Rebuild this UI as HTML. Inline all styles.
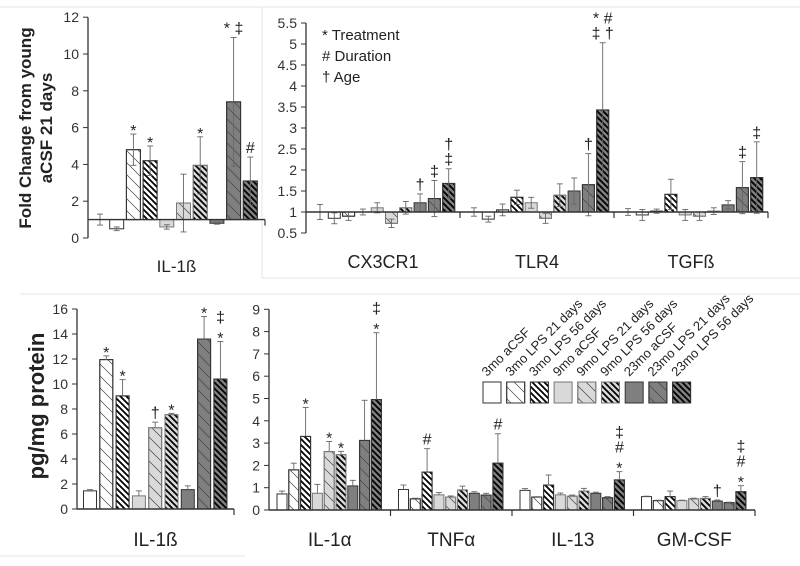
<!DOCTYPE html>
<html><head><meta charset="utf-8">
<style>
html,body{margin:0;padding:0;background:#fff;}
svg{display:block;font-family:"Liberation Sans",sans-serif;}
</style></head>
<body>
<svg id="chart" width="800" height="566" viewBox="0 0 800 566" xmlns="http://www.w3.org/2000/svg">
<defs>
<pattern id="thin" patternUnits="userSpaceOnUse" width="12" height="12">
<path d="M0,0 L12,12 M-3,9 L3,15 M9,-3 L15,3" stroke="#444" stroke-width="0.7"/>
</pattern>
<pattern id="bold" patternUnits="userSpaceOnUse" width="6" height="6">
<path d="M0,0 L6,6 M-2,4 L2,8 M4,-2 L8,2" stroke="#000" stroke-width="1.8"/>
</pattern>
</defs>
<g stroke="#e6e6e6" stroke-width="1">
<line x1="0" y1="7" x2="800" y2="7"/>
<line x1="262" y1="7" x2="262" y2="278"/>
<line x1="262" y1="278" x2="800" y2="278"/>
<line x1="20" y1="294" x2="800" y2="294"/>
<line x1="0" y1="556" x2="245" y2="556"/>
</g>
</svg>
<script>
// ---------- data ----------
const patsA = ['w','w','wt','wb','l','lt','lb','d','dt','db'];
const patsC = ['w','wt','wb','l','lt','lb','d','dt','db'];
const legendLabels = ['3mo aCSF','3mo LPS 21 days','3mo LPS 56 days','9mo aCSF','9mo LPS 21 days','9mo LPS 56 days','23mo aCSF','23mo LPS 21 days','23mo LPS 56 days'];

const aTicks = [0,2,4,6,8,10,12];
const aGroups = ['IL-1ß'];
const aVals = [[1,0.5,4.8,4.2,0.6,1.9,3.95,0.8,7.4,3.1]];
const aErr  = [[0.3,0.1,0.85,0.8,0.12,1.57,1.55,0.05,3.5,1.3]];
const aNotes = [['','','*','*','','','*','','* ‡','#']];

const bTicks = [0.5,1,1.5,2,2.5,3,3.5,4,4.5,5,5.5];
const bGroups = ['CX3CR1','TLR4','TGFß'];
const bVals = [
 [1,0.85,0.9,1.0,1.1,0.73,1.1,1.22,1.32,1.68],
 [1,0.83,1.05,1.35,1.22,0.85,1.4,1.5,1.65,3.43],
 [1,0.93,1.02,1.42,0.93,0.9,1.02,1.17,1.58,1.82]];
const bErr = [
 [0.18,0.13,0.1,0.07,0.12,0.1,0.15,0.21,0.43,0.35],
 [0.1,0.07,0.14,0.17,0.13,0.12,0.27,0.31,0.74,1.6],
 [0.08,0.13,0.05,0.36,0.13,0.1,0.08,0.1,0.62,0.85]];
const bNotes = [
 ['','','','','','','','†','‡','†\n‡'],
 ['','','','','','','','','†','*  #\n‡  †'],
 ['','','','','','','','','‡','‡']];

const cTicks = [0,2,4,6,8,10,12,14,16];
const cGroups = ['IL-1ß'];
const cVals = [[1.45,11.95,9.05,1.05,6.5,7.55,1.55,13.6,10.4]];
const cErr  = [[0.1,0.3,1.3,0.4,0.45,0.1,0.3,1.8,3.0]];
const cNotes = [['','*','*','','†','*','','*','‡\n*']];

const dTicks = [0,1,2,3,4,5,6,7,8,9];
const dGroups = ['IL-1α','TNFα','IL-13','GM-CSF'];
const dVals = [
 [0.72,1.8,3.3,0.75,2.62,2.48,1.08,3.12,4.95],
 [0.92,0.5,1.7,0.68,0.58,0.9,0.75,0.67,2.1],
 [0.88,0.58,1.12,0.68,0.62,0.85,0.75,0.55,1.35],
 [0.6,0.42,0.6,0.42,0.5,0.52,0.4,0.33,0.82]];
const dErr = [
 [0.13,0.3,1.3,0.4,0.45,0.15,0.25,1.8,3.0],
 [0.2,0.03,1.05,0.1,0.05,0.17,0.07,0.08,1.32],
 [0.08,0.02,0.45,0.08,0.05,0.12,0.05,0.05,0.37],
 [0.02,0.02,0.25,0.02,0.03,0.08,0.05,0.02,0.27]];
const dNotes = [
 ['','','*','','*','*','','','‡\n*'],
 ['','','#','','','','','','#'],
 ['','','','','','','','','‡\n#\n*'],
 ['','','','','','','†','','‡\n#\n*']];

// ---------- drawing ----------
const NS='http://www.w3.org/2000/svg';
const svg=document.getElementById('chart');
function mk(tag,attrs,parent){const e=document.createElementNS(NS,tag);for(const k in attrs)e.setAttribute(k,attrs[k]);(parent||svg).appendChild(e);return e;}
const fillCol={w:'#ffffff',l:'#d9d9d9',d:'#7f7f7f'};

function drawBar(g,p,cx,bw,yA,yB){
  const y=Math.min(yA,yB),h=Math.abs(yA-yB);
  const base=p[0];
  const r=mk('rect',{x:cx-bw/2,y:y,width:bw,height:h,fill:fillCol[base],stroke:base==='l'?'#777':'#333','stroke-width':1},g);
  
  
  if(p.length>1){
    const o=mk('rect',{x:cx-bw/2,y:y,width:bw,height:h,fill:p[1]==='t'?'url(#thin)':'url(#bold)',stroke:base==='l'?'#777':'#333','stroke-width':1},g);
    
    
  }
}

function panel(cfg){
  const g=mk('g',{});
  
  
  const Y=v=>cfg.y0-(v-cfg.vmin)*cfg.ppu;
  const xEnd=cfg.ax+cfg.gw*cfg.groups.length;
  mk('line',{x1:cfg.ax,y1:Y(cfg.ticks[0]),x2:cfg.ax,y2:Y(cfg.ticks[cfg.ticks.length-1]),stroke:'#333','stroke-width':1.3},g);
  cfg.ticks.forEach(t=>{
    mk('line',{x1:cfg.ax-5,y1:Y(t),x2:cfg.ax,y2:Y(t),stroke:'#333','stroke-width':1},g);
    const tx=mk('text',{x:cfg.ax-9,y:Y(t)+5,'text-anchor':'end','font-size':14,fill:'#333'},g);
    tx.textContent=t;
    
    
  });
  const yb=Y(cfg.base);
  cfg.groups.forEach((name,gi)=>{
    const gs=cfg.ax+gi*cfg.gw;
    cfg.vals[gi].forEach((v,i)=>{
      const cx=gs+cfg.pad+i*cfg.sp;
      drawBar(g,cfg.pats[i],cx,cfg.bw,Y(v),yb);
      const e=cfg.err[gi][i];
      const lo=cfg.sym?v-e:v, hi=v+e;
      mk('line',{x1:cx,y1:Y(lo),x2:cx,y2:Y(hi),stroke:'#666','stroke-width':0.9},g);
      mk('line',{x1:cx-3,y1:Y(hi),x2:cx+3,y2:Y(hi),stroke:'#666','stroke-width':0.9},g);
      if(cfg.sym) mk('line',{x1:cx-3,y1:Y(lo),x2:cx+3,y2:Y(lo),stroke:'#666','stroke-width':0.9},g);
      const note=cfg.notes[gi][i];
      if(note){
        const lines=note.split('\n');
        const top=Math.min(Y(hi),Y(v));
        lines.forEach((ln,li)=>{
          const shift=(ln.trim()==='*')?6:0;
          const t=mk('text',{x:cx,y:top-4-(lines.length-1-li)*15+shift,'text-anchor':'middle','font-size':16,fill:'#222','xml:space':'preserve'},g);
          t.textContent=ln;
          
          
        });
      }
    });
    const lbl=mk('text',{x:gs+cfg.gw/2,y:cfg.labY,'text-anchor':'middle','font-size':cfg.labSize,fill:'#222'},g);
    lbl.textContent=name;
    
    
    mk('line',{x1:gs+cfg.gw,y1:yb,x2:gs+cfg.gw,y2:yb+6,stroke:'#333','stroke-width':1.2},g);
  });
  mk('line',{x1:cfg.ax,y1:yb,x2:xEnd,y2:yb,stroke:'#333','stroke-width':1.4},g);
  return g;
}

panel({name:'panel-a-fold-change-il1b',ax:88,gw:177,pad:12,sp:16.7,bw:14,y0:238,vmin:0,ppu:18.4,base:1,ticks:aTicks,groups:aGroups,vals:aVals,err:aErr,notes:aNotes,pats:patsA,sym:true,labY:272,labSize:17});
panel({name:'panel-b-fold-change-receptors',ax:306,gw:154,pad:14,sp:14.3,bw:12,y0:233,vmin:0.5,ppu:42,base:1,ticks:bTicks,groups:bGroups,vals:bVals,err:bErr,notes:bNotes,pats:patsA,sym:true,labY:268,labSize:18});
panel({name:'panel-c-protein-il1b',ax:77,gw:157,pad:13,sp:16.3,bw:13,y0:509,vmin:0,ppu:12.5,base:0,ticks:cTicks,groups:cGroups,vals:cVals,err:cErr,notes:cNotes,pats:patsC,sym:false,labY:546,labSize:19});
panel({name:'panel-d-protein-cytokines',ax:269,gw:121.5,pad:13,sp:11.8,bw:10,y0:510,vmin:0,ppu:22.3,base:0,ticks:dTicks,groups:dGroups,vals:dVals,err:dErr,notes:dNotes,pats:patsC,sym:false,labY:546,labSize:19});

let t=mk('text',{transform:'translate(31,128) rotate(-90)','text-anchor':'middle','font-size':17,'font-weight':'bold',fill:'#222'});
t.textContent='Fold Change from young';


t=mk('text',{transform:'translate(52,128) rotate(-90)','text-anchor':'middle','font-size':17,'font-weight':'bold',fill:'#222'});
t.textContent='aCSF 21 days';


t=mk('text',{transform:'translate(44,406) rotate(-90)','text-anchor':'middle','font-size':22,'font-weight':'bold',fill:'#222'});
t.textContent='pg/mg protein';



const keyLines=['* Treatment','# Duration','† Age'];
keyLines.forEach((k,i)=>{
  const kt=mk('text',{x:322,y:40+i*21,'font-size':15,fill:'#222'});
  kt.textContent=k;
  
  
});

legendLabels.forEach((lab,i)=>{
  const x=483+i*23.7;
  const lg=mk('g',{});
  
  
  drawBar(lg,patsC[i],x+9,18,382,403);
  const lt=mk('text',{transform:`translate(${x+4},377) rotate(-45)`,'font-size':13,fill:'#222'},lg);
  lt.textContent=lab;
});
</script>
</body></html>
